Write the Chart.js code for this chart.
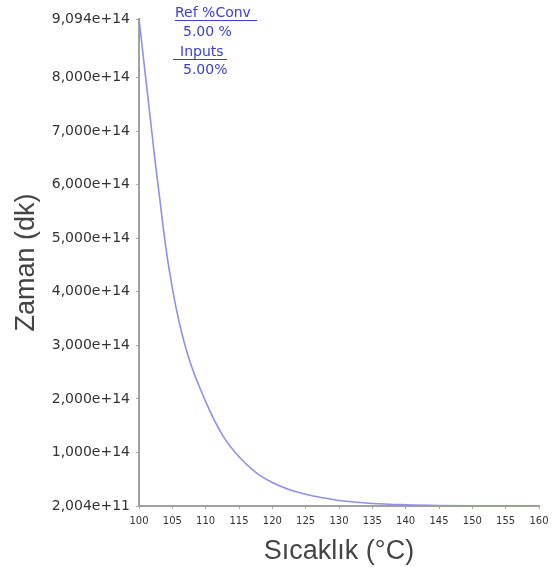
<!DOCTYPE html>
<html>
<head>
<meta charset="utf-8">
<script src="https://cdn.jsdelivr.net/npm/chart.js@4/dist/chart.umd.min.js"></script>
<style>
  html, body { margin: 0; padding: 0; background: #ffffff; }
  #wrap { width: 555px; height: 568px; position: relative; }
</style>
</head>
<body>
<div id="wrap"><canvas id="c" width="555" height="568"></canvas></div>
<script>
// Temperature (°C) and time to reach the reference conversion (minutes)
const temperatures = [100, 101, 102, 102.5, 103, 104, 105, 106, 107.5, 110, 112.5, 115, 117.5, 120, 122.5, 125, 127.5, 130, 135, 140, 145, 150, 155, 160];
const times = [9.094e14, 8.0e14, 6.9e14, 6.35e14, 5.85e14, 4.85e14, 4.07e14, 3.45e14, 2.75e14, 1.95e14, 1.33e14, 0.92e14, 0.63e14, 0.44e14, 0.31e14, 0.22e14, 0.155e14, 0.105e14, 0.05e14, 0.025e14, 0.012e14, 0.0065e14, 0.0035e14, 0.002004e14];

const yTickValues = [2.004e11, 1e14, 2e14, 3e14, 4e14, 5e14, 6e14, 7e14, 8e14, 9.094e14];
const yTickLabels = ['2,004e+11', '1,000e+14', '2,000e+14', '3,000e+14', '4,000e+14', '5,000e+14', '6,000e+14', '7,000e+14', '8,000e+14', '9,094e+14'];

const xMin = 100, xMax = 160, xStep = 5;

const legendLines = [
  { text: 'Ref %Conv', underline: true },
  { text: '5.00 %', underline: false },
  { text: 'Inputs', underline: true },
  { text: '5.00%', underline: false }
];

// Blue annotation block in the upper left of the plot area
const annotationPlugin = {
  id: 'convAnnotation',
  afterDraw(chart) {
    const ctx = chart.ctx;
    const layout = [
      { x: 175, y: 13, ux0: 175, ux1: 257, uy: 20 },
      { x: 183, y: 32, ux0: 0, ux1: 0, uy: 0 },
      { x: 180, y: 52, ux0: 173, ux1: 227, uy: 59 },
      { x: 183, y: 70, ux0: 0, ux1: 0, uy: 0 }
    ];
    ctx.save();
    ctx.font = '14px "DejaVu Sans", sans-serif';
    ctx.fillStyle = '#3b3fd2';
    ctx.strokeStyle = '#3b3fd2';
    ctx.lineWidth = 1;
    ctx.textAlign = 'left';
    ctx.textBaseline = 'middle';
    legendLines.forEach((ln, i) => {
      const p = layout[i];
      ctx.fillText(ln.text, p.x, p.y);
      if (ln.underline) {
        ctx.beginPath();
        ctx.moveTo(p.ux0, p.uy + 0.5);
        ctx.lineTo(p.ux1, p.uy + 0.5);
        ctx.stroke();
      }
    });
    ctx.restore();
  }
};

const points = temperatures.map((t, i) => ({ x: t, y: times[i] }));

new Chart(document.getElementById('c'), {
  type: 'line',
  data: {
    datasets: [{
      data: points,
      borderColor: '#9090e8',
      borderWidth: 1.6,
      pointRadius: 0,
      fill: false,
      cubicInterpolationMode: 'monotone'
    }]
  },
  options: {
    responsive: false,
    animation: false,
    layout: { padding: { top: 19, right: 16, left: 0, bottom: 0 } },
    plugins: { legend: { display: false }, tooltip: { enabled: false } },
    scales: {
      x: {
        type: 'linear',
        min: xMin,
        max: xMax,
        afterFit(scale) { scale.height = 62; },
        ticks: {
          stepSize: xStep,
          color: '#333',
          font: { family: '"DejaVu Sans", sans-serif', size: 10 },
          padding: 6,
          maxRotation: 0,
          autoSkip: false,
          callback: v => String(v)
        },
        grid: { drawOnChartArea: false, drawTicks: true, tickLength: 3, color: '#aaaaaa' },
        border: { color: '#a0a0a0', width: 2 },
        title: {
          display: true,
          text: 'Sıcaklık (°C)',
          color: '#444',
          font: { family: '"Liberation Sans", Arial, sans-serif', size: 27 },
          padding: { top: 2, bottom: 0 }
        }
      },
      y: {
        type: 'linear',
        min: yTickValues[0],
        max: yTickValues[yTickValues.length - 1],
        afterFit(scale) { scale.width = 139; },
        afterBuildTicks(scale) {
          scale.ticks = yTickValues.map(v => ({ value: v }));
        },
        ticks: {
          color: '#333',
          font: { family: '"DejaVu Sans", sans-serif', size: 14 },
          padding: 6,
          callback: (v, i) => yTickLabels[i]
        },
        grid: { drawOnChartArea: false, drawTicks: true, tickLength: 3, color: '#aaaaaa' },
        border: { color: '#a0a0a0', width: 2 },
        title: {
          display: true,
          text: 'Zaman (dk)',
          color: '#444',
          font: { family: '"Liberation Sans", Arial, sans-serif', size: 27 },
          padding: { top: 10, bottom: 4 }
        }
      }
    }
  },
  plugins: [annotationPlugin]
});
</script>
</body>
</html>
